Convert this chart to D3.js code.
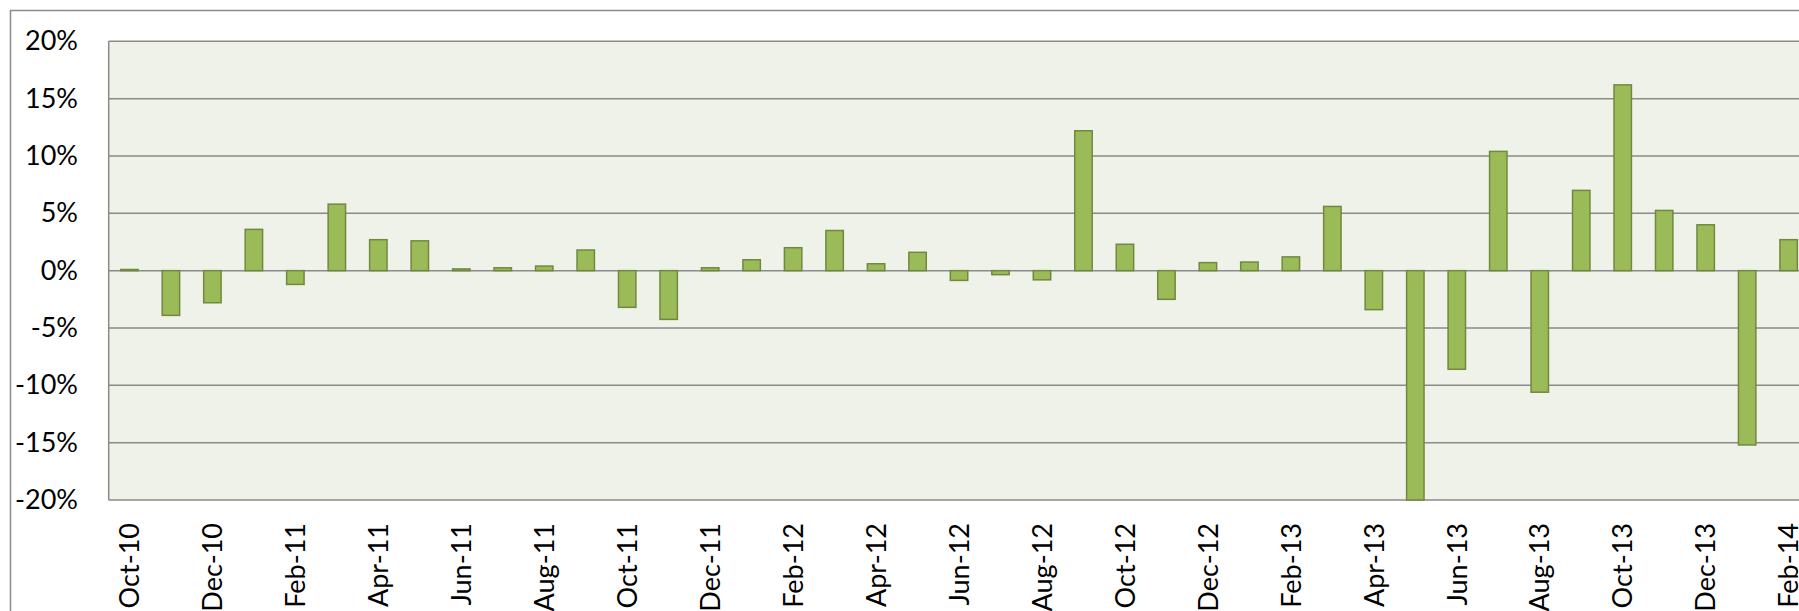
<!DOCTYPE html>
<html>
<head>
<meta charset="utf-8">
<script src="https://cdn.jsdelivr.net/npm/d3@7"></script>
<style>
  html, body { margin: 0; padding: 0; background: #ffffff; overflow: hidden; }
  svg { display: block; }
  text { font-family: Lato, "Liberation Sans", sans-serif; fill: #000; }
</style>
</head>
<body>
<svg id="chart" width="1799" height="611"></svg>
<script>
const categories = [
  'Oct-10','Nov-10','Dec-10',
  'Jan-11','Feb-11','Mar-11','Apr-11','May-11','Jun-11','Jul-11','Aug-11','Sep-11','Oct-11','Nov-11','Dec-11',
  'Jan-12','Feb-12','Mar-12','Apr-12','May-12','Jun-12','Jul-12','Aug-12','Sep-12','Oct-12','Nov-12','Dec-12',
  'Jan-13','Feb-13','Mar-13','Apr-13','May-13','Jun-13','Jul-13','Aug-13','Sep-13','Oct-13','Nov-13','Dec-13',
  'Jan-14','Feb-14'
];
const values = [
  0.1, -3.9, -2.8,
  3.6, -1.2, 5.8, 2.7, 2.6, 0.15, 0.25, 0.4, 1.8, -3.2, -4.25, 0.25,
  0.95, 2.0, 3.5, 0.6, 1.6, -0.85, -0.35, -0.8, 12.2, 2.3, -2.5, 0.7,
  0.75, 1.2, 5.6, -3.4, -20.0, -8.6, 10.4, -10.6, 7.0, 16.2, 5.25, 4.0,
  -15.2, 2.7
];
const xTickLabels = [
  'Oct-10','Dec-10','Feb-11','Apr-11','Jun-11','Aug-11','Oct-11','Dec-11',
  'Feb-12','Apr-12','Jun-12','Aug-12','Oct-12','Dec-12','Feb-13','Apr-13',
  'Jun-13','Aug-13','Oct-13','Dec-13','Feb-14'
];
const yTicks = [-20, -15, -10, -5, 0, 5, 10, 15, 20];

const svg = d3.select('#chart');
const plotLeft = 108.7, plotTop = 41.3, plotBottom = 500;
const step = 41.48;
const plotRight = plotLeft + step * categories.length;

const x = d3.scaleBand()
  .domain(categories)
  .range([plotLeft, plotRight])
  .paddingInner(0.58)
  .paddingOuter(0.29);

const y = d3.scaleLinear()
  .domain([-20, 20])
  .range([plotBottom, plotTop]);

// outer chart border
svg.append('rect')
  .attr('x', 10.5).attr('y', 10.5)
  .attr('width', 1830).attr('height', 640)
  .attr('fill', '#ffffff')
  .attr('stroke', '#8c8c8c')
  .attr('stroke-width', 1.5);

// plot area background
svg.append('rect')
  .attr('x', plotLeft).attr('y', plotTop)
  .attr('width', plotRight - plotLeft).attr('height', plotBottom - plotTop)
  .attr('fill', '#eff2e9');

// gridlines
svg.append('g').selectAll('line')
  .data(yTicks)
  .join('line')
  .attr('x1', plotLeft).attr('x2', plotRight)
  .attr('y1', d => y(d)).attr('y2', d => y(d))
  .attr('stroke', '#8a8a8a')
  .attr('stroke-width', 1.5);

// plot left border
svg.append('line')
  .attr('x1', plotLeft).attr('x2', plotLeft)
  .attr('y1', plotTop).attr('y2', plotBottom)
  .attr('stroke', '#8a8a8a')
  .attr('stroke-width', 1.5);

// bars
svg.append('g').selectAll('rect')
  .data(categories.map((c, i) => ({ c, v: values[i] })))
  .join('rect')
  .attr('x', d => x(d.c))
  .attr('width', x.bandwidth())
  .attr('y', d => y(Math.max(0, d.v)))
  .attr('height', d => Math.abs(y(d.v) - y(0)))
  .attr('fill', '#9bbb59')
  .attr('stroke', '#71893f')
  .attr('stroke-width', 1.5);

// y axis
const yAxis = d3.axisLeft(y)
  .tickValues(yTicks)
  .tickSize(0)
  .tickPadding(0)
  .tickFormat(d => d + '%');
const yg = svg.append('g')
  .attr('transform', `translate(${78},0)`)
  .call(yAxis);
yg.select('.domain').remove();
yg.selectAll('text')
  .attr('font-size', 27)
  .attr('font-family', 'Lato, "Liberation Sans", sans-serif')
  .attr('fill', '#000');

// x axis
const xAxis = d3.axisBottom(x)
  .tickValues(xTickLabels)
  .tickSize(0)
  .tickPadding(0);
const xg = svg.append('g')
  .attr('transform', `translate(0,${plotBottom})`)
  .call(xAxis);
xg.select('.domain').remove();
xg.selectAll('text')
  .attr('font-size', 27)
  .attr('font-family', 'Lato, "Liberation Sans", sans-serif')
  .attr('fill', '#000')
  .attr('text-anchor', 'end')
  .attr('transform', 'rotate(-90)')
  .attr('x', -23)
  .attr('y', 0)
  .attr('dy', '0.36em');
</script>
</body>
</html>
